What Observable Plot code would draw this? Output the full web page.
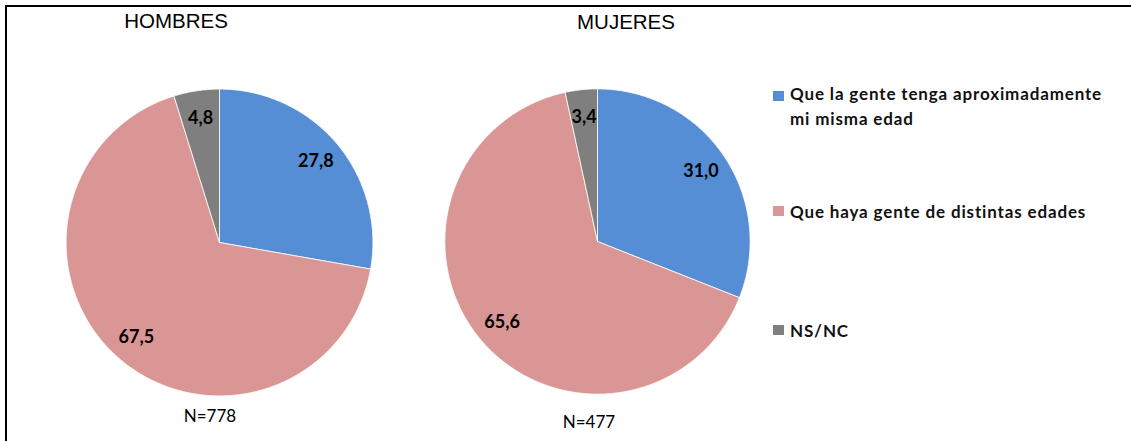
<!DOCTYPE html>
<html>
<head>
<meta charset="utf-8">
<script src="https://cdn.jsdelivr.net/npm/d3@7"></script>
<script src="https://cdn.jsdelivr.net/npm/@observablehq/plot@0.6"></script>
<style>
  html, body { margin: 0; padding: 0; background: #fff; }
  #root { position: relative; width: 1131px; height: 441px; overflow: hidden; }
  .frame { position: absolute; left: 5px; top: 5px; width: 1200px; height: 500px;
           border-left: 2px solid #000; border-top: 2px solid #000; }
  .title { position: absolute; width: 200px; text-align: center;
           font-family: "Liberation Sans", Arial, sans-serif; font-size: 20.5px; line-height: 22px; color: #000; }
  .nlab { position: absolute; width: 120px; text-align: center;
          font-family: Lato, sans-serif; font-size: 17px; line-height: 20px; color: #000; }
  .pie { position: absolute; }
  .leg { position: absolute; left: 773px; font-family: Lato, sans-serif; font-weight: bold;
         font-size: 17px; line-height: 25px; color: #111; letter-spacing: 0.85px; }
  .leg .sw { position: absolute; left: 0; width: 11px; height: 10px; }
  .leg .tx { position: absolute; left: 17px; width: 360px; white-space: nowrap; }
</style>
</head>
<body>
<div id="root"><div class="frame"></div></div>
<script>
const categories = [
  "Que la gente tenga aproximadamente mi misma edad",
  "Que haya gente de distintas edades",
  "NS/NC"
];
const legendLines = [
  ["Que la gente tenga aproximadamente", "mi misma edad"],
  ["Que haya gente de distintas edades"],
  ["NS/NC"]
];
const colors = ["#558ED5", "#D99694", "#7F7F7F"];
const groups = ["HOMBRES", "MUJERES"];
const hombres = [27.8, 67.5, 4.8];
const mujeres = [31.0, 65.6, 3.4];
const nLabels = ["N=778", "N=477"];

const root = document.getElementById("root");

function piePlot(values, R) {
  const arcs = d3.pie().sort(null)(values);
  const pts = [];
  const labels = [];
  arcs.forEach((a, i) => {
    const cat = categories[i];
    const n = Math.max(2, Math.ceil((a.endAngle - a.startAngle) / (Math.PI / 360)));
    pts.push({cat, x: 0, y: 0});
    for (let k = 0; k <= n; k++) {
      const ang = a.startAngle + (a.endAngle - a.startAngle) * k / n;
      pts.push({cat, x: Math.sin(ang), y: Math.cos(ang)});
    }
    pts.push({cat, x: 0, y: 0});
    const mid = (a.startAngle + a.endAngle) / 2;
    labels.push({x: 0.82 * Math.sin(mid), y: 0.82 * Math.cos(mid),
                 text: values[i].toFixed(1).replace(".", ",")});
  });
  return Plot.plot({
    width: 320, height: 320, margin: 0,
    x: {domain: [-R, R], axis: null},
    y: {domain: [-R, R], axis: null},
    color: {domain: categories, range: colors},
    style: {background: "transparent", overflow: "visible"},
    marks: [
      Plot.line(pts, {x: "x", y: "y", z: "cat", fill: "cat", stroke: "white", strokeWidth: 0.8, curve: "linear"}),
      Plot.text(labels, {x: "x", y: "y", text: "text", fontSize: 18, fontWeight: "bold",
                         fontFamily: "Lato, sans-serif", fill: "#000"})
    ]
  });
}

function place(el, cls, left, top) {
  el.classList.add(cls);
  el.style.left = left + "px";
  el.style.top = top + "px";
  root.appendChild(el);
  return el;
}

const p1 = piePlot(hombres, 160 / 153.4);
place(p1, "pie", 59.3, 82.4);
const p2 = piePlot(mujeres, 160 / 152.6);
place(p2, "pie", 437.3, 80.8);

const titlePos = [[176, 10], [626, 11]];
groups.forEach((g, i) => {
  const d = document.createElement("div");
  d.textContent = g;
  place(d, "title", titlePos[i][0] - 100, titlePos[i][1]);
});

const nPos = [[210, 406], [589, 412]];
nLabels.forEach((t, i) => {
  const d = document.createElement("div");
  d.textContent = t;
  place(d, "nlab", nPos[i][0] - 60, nPos[i][1]);
});

const legTops = [81, 199, 318];
const swTops = [10, 7, 7];
categories.forEach((c, i) => {
  const item = document.createElement("div");
  item.className = "leg";
  item.style.top = legTops[i] + "px";
  const sw = document.createElement("div");
  sw.className = "sw";
  sw.style.background = colors[i];
  sw.style.top = swTops[i] + "px";
  const tx = document.createElement("div");
  tx.className = "tx";
  tx.innerHTML = legendLines[i].join("<br>");
  item.appendChild(sw);
  item.appendChild(tx);
  root.appendChild(item);
});
</script>
</body>
</html>
